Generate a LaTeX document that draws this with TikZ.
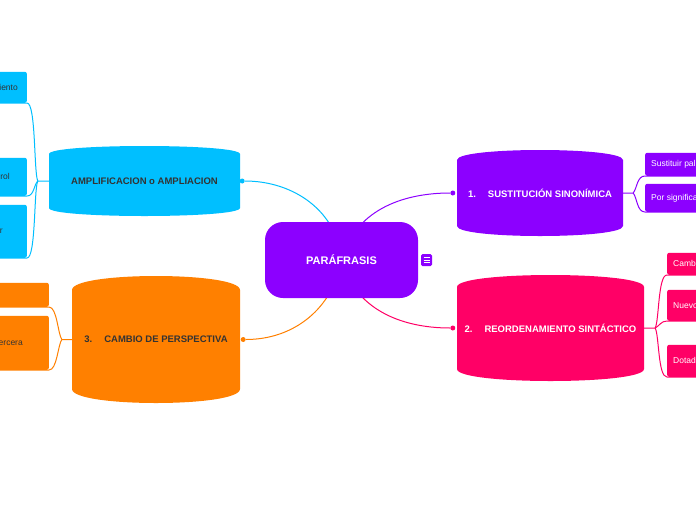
\documentclass[tikz,border=0pt]{standalone}
\usepackage{fontspec}
\setmainfont{Liberation Sans}
\usetikzlibrary{calc,positioning,backgrounds}
\definecolor{violeta}{RGB}{140,0,255}
\definecolor{celeste}{RGB}{0,191,255}
\definecolor{naranja}{RGB}{255,128,0}
\definecolor{rosa}{RGB}{255,0,102}
\definecolor{tinta}{RGB}{51,51,51}
\tikzset{barrel/.style 2 args={inner sep=0pt, path picture={
      \fill[#1] let \p1=(path picture bounding box.south west),
                    \p2=(path picture bounding box.north east) in
        (\x1,\y1+#2) -- (\x1,\y2-#2)
        .. controls (\x1,\y2+#2/3) and (\x2,\y2+#2/3) .. (\x2,\y2-#2)
        -- (\x2,\y1+#2)
        .. controls (\x2,\y1-#2/3) and (\x1,\y1-#2/3) .. (\x1,\y1+#2) -- cycle;}},
  topic/.style={font=\bfseries\fontsize{9.5}{11}\selectfont},
  sub/.style={rounded corners=2pt, inner sep=0pt, minimum width=110pt},
  subtxt/.style={font=\fontsize{8.5}{10}\selectfont, inner sep=0pt},
  link/.style={line width=1pt},
  knob/.style={circle, fill, inner sep=0pt, minimum size=5pt}}

\begin{document}
\begin{tikzpicture}[x=1pt,y=1pt]
  \useasboundingbox (0,0) rectangle (696,-520);
  \clip (0,0) rectangle (696,-520);
  % central topic
  \node[fill=violeta, rounded corners=18pt, minimum width=153pt, minimum height=76pt,
        text=white, font=\bfseries\fontsize{11}{13}\selectfont] (para) at (341.5,-260) {PARÁFRASIS};
  \node[fill=violeta, rounded corners=1.5pt, minimum width=11pt, minimum height=12pt, inner sep=0pt,
        path picture={\foreach \k in {-2.5,0,2.5}
          \draw[white, line width=0.9pt] ($(path picture bounding box.center)+(-3,\k)$) -- ++(6,0);}]
        (menu) at (426.5,-260) {};
  % main topics
  \node[barrel={celeste}{8pt}, minimum width=191pt, minimum height=70pt, topic, text=tinta]
        (ampl) at (144.5,-181) {AMPLIFICACION o AMPLIACION};
  \node[barrel={naranja}{14pt}, minimum width=168pt, minimum height=127pt, topic, text=tinta]
        (persp) at (156,-339.5) {3.\hspace{12pt}CAMBIO DE PERSPECTIVA};
  \node[barrel={violeta}{10pt}, minimum width=166pt, minimum height=86pt, topic, text=white]
        (sust) at (540,-193) {1.\hspace{12pt}SUSTITUCIÓN SINONÍMICA};
  \node[barrel={rosa}{12pt}, minimum width=187pt, minimum height=106pt, topic, text=white]
        (reord) at (550.5,-328) {2.\hspace{12pt}REORDENAMIENTO SINTÁCTICO};
  % end dots
  \node[knob, celeste] (ka) at ($(ampl.east)+(2,0)$) {};
  \node[knob, naranja] (kp) at ($(persp.east)+(3,0)$) {};
  \node[knob, violeta] (ks) at ($(sust.west)+(-4,0)$) {};
  \node[knob, rosa] (kr) at ($(reord.west)+(-4,0)$) {};
  % subtopics, left
  \node[sub, fill=celeste, minimum height=31pt, anchor=south east] (a1) at (27,-103) {};
  \node[sub, fill=celeste, minimum height=38pt, anchor=south east] (a2) at (27,-196) {};
  \node[sub, fill=celeste, minimum height=53pt, anchor=south east] (a3) at (27,-258) {};
  \node[subtxt, text=tinta, left=9pt of a1.east] (a1t) {iento};
  \node[subtxt, text=tinta, left=17pt of a2.east] (a2t) {rol};
  \node[subtxt, text=tinta, left=24pt of a3.east] (a3t) {r};
  \node[sub, fill=naranja, minimum height=24pt, anchor=south east] (c1) at (49,-307) {};
  \node[sub, fill=naranja, minimum height=54pt, anchor=south east] (c2) at (49,-370) {};
  \node[subtxt, text=tinta, left=26pt of c2.east] (c2t) {ercera};
  % subtopics, right
  \node[sub, fill=violeta, minimum height=23pt, anchor=south west] (b1) at (645,-176) {};
  \node[sub, fill=violeta, minimum height=28pt, anchor=south west] (b2) at (645,-212) {};
  \node[subtxt, text=white, right=6pt of b1.west] (b1t) {Sustituir pal};
  \node[subtxt, text=white, right=6pt of b2.west] (b2t) {Por significa};
  \node[sub, fill=rosa, minimum height=22pt, anchor=south west] (p1) at (667,-275) {};
  \node[sub, fill=rosa, minimum height=31pt, anchor=south west] (p2) at (667,-321) {};
  \node[sub, fill=rosa, minimum height=32pt, anchor=south west] (p3) at (667,-377) {};
  \node[subtxt, text=white, right=6pt of p1.west] (p1t) {Camb};
  \node[subtxt, text=white, right=6pt of p2.west] (p2t) {Nuevo};
  \node[subtxt, text=white, right=6pt of p3.west] (p3t) {Dotad};
  \begin{pgfonlayer}{background}
    \fill[white] (0,0) rectangle (696,-520);
    % links from the centre
    \draw[link, celeste] (para.center) to[out=95, in=0] (ka);
    \draw[link, naranja] (para.center) to[out=-100, in=0] (kp);
    \draw[link, violeta] (para.center) to[out=75, in=180] (ks);
    \draw[link, rosa] (para.center) to[out=-75, in=180] (kr);
    % forks
    \coordinate (fa) at ($(ampl.west)+(-11,0)$);
    \coordinate (fc) at ($(persp.west)+(-10,0)$);
    \coordinate (fb) at ($(sust.east)+(10,0)$);
    \coordinate (fr) at ($(reord.east)+(11,0)$);
    \draw[link, celeste] (ampl.west) -- (fa) .. controls +(-4,8) and +(9,0) .. (a1.south east) -- (a1.south west);
    \draw[link, celeste] (fa) .. controls +(-4,-4) and +(7,0) .. (a2.south east) -- (a2.south west);
    \draw[link, celeste] (fa) .. controls +(-4,-8) and +(9,0) .. (a3.south east) -- (a3.south west);
    \draw[link, naranja] (persp.west) -- (fc) .. controls +(-4,6) and +(8,0) .. (c1.south east) -- (c1.south west);
    \draw[link, naranja] (fc) .. controls +(-4,-6) and +(8,0) .. (c2.south east) -- (c2.south west);
    \draw[link, violeta] (sust.east) -- (fb) .. controls +(4,5) and +(-8,0) .. (b1.south west) -- (b1.south east);
    \draw[link, violeta] (fb) .. controls +(4,-5) and +(-8,0) .. (b2.south west) -- (b2.south east);
    \draw[link, rosa] (reord.east) -- (fr) .. controls +(4,8) and +(-9,0) .. (p1.south west) -- (p1.south east);
    \draw[link, rosa] (fr) .. controls +(4,2) and +(-6,0) .. (p2.south west) -- (p2.south east);
    \draw[link, rosa] (fr) .. controls +(4,-8) and +(-9,0) .. (p3.south west) -- (p3.south east);
  \end{pgfonlayer}
\end{tikzpicture}
\end{document}
